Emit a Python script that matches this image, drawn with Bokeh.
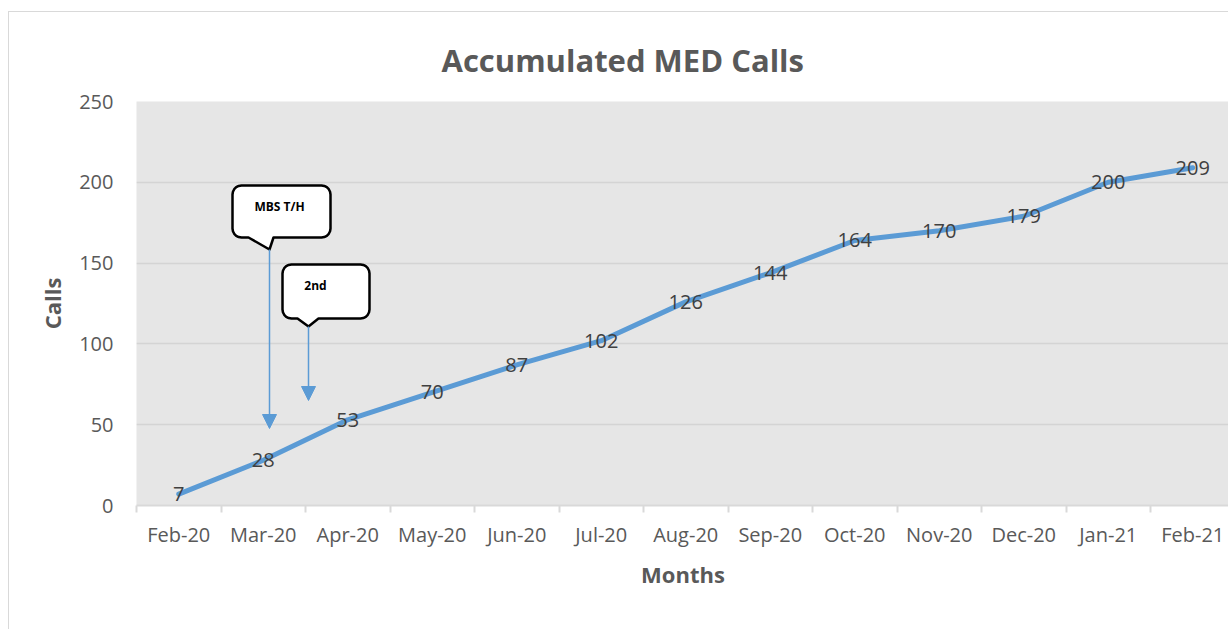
import numpy as np
from bokeh.plotting import figure
from bokeh.models import FixedTicker, Label, Arrow, NormalHead, ColumnDataSource, Range1d
from bokeh.core.properties import value
from bokeh.embed import file_html
from bokeh.resources import INLINE

# ---- data ----
months = ["Feb-20", "Mar-20", "Apr-20", "May-20", "Jun-20", "Jul-20", "Aug-20",
          "Sep-20", "Oct-20", "Nov-20", "Dec-20", "Jan-21", "Feb-21"]
calls = [7, 28, 53, 70, 87, 102, 126, 144, 164, 170, 179, 200, 209]
y_ticks = [0, 50, 100, 150, 200, 250]
callout_texts = ["MBS T/H", "2nd"]

# ---- layout constants ----
ML, MT = 8, 11          # page offset of chart border
W, H = 1220, 618
LEFT, TOP = 127, 89
FRAME_H = 404
BOTTOM = H - TOP - FRAME_H
FRAME_W = W - LEFT
CAT_PX = 84.5
X_START = -0.5
X_END = X_START + FRAME_W / CAT_PX
Y_MAX = 250
FL, FT = ML + 1 + LEFT, MT + 1 + TOP  # frame left/top in page px


def px2x(px):
    return X_START + (px - FL) / CAT_PX


def py2y(py):
    return (FT + FRAME_H - py) / FRAME_H * Y_MAX


idx = list(range(len(months)))
src = ColumnDataSource(dict(x=idx, y=calls, lab=[str(v) for v in calls]))

p = figure(width=W, height=H, output_backend="svg", toolbar_location=None,
           x_range=Range1d(X_START, X_END), y_range=Range1d(0, Y_MAX),
           min_border_left=LEFT, min_border_right=0, min_border_top=TOP,
           min_border_bottom=BOTTOM)
p.styles = {"border-left": "1px solid #d9d9d9", "border-top": "1px solid #d9d9d9",
            "margin-top": f"{MT}px", "margin-left": f"{ML}px"}

p.background_fill_color = "#e6e6e6"
p.border_fill_color = "white"
p.outline_line_color = None

FONT = "Open Sans"
GRAY = "#595959"

# title
p.title.text = "Accumulated MED Calls"
p.title.align = "left"
p.title.offset = 441 - FL
p.title.text_font = FONT
p.title.text_font_size = "31px"
p.title.text_font_style = "bold"
p.title.text_color = GRAY
p.title.standoff = 41

# x axis
p.xaxis.ticker = FixedTicker(ticks=idx, minor_ticks=[i - 0.5 for i in range(len(months) + 1)])
p.xaxis.major_label_overrides = {i: m for i, m in enumerate(months)}
p.xaxis.major_tick_line_color = None
p.xaxis.major_tick_out = 0
p.xaxis.minor_tick_line_color = "#d9d9d9"
p.xaxis.minor_tick_line_width = 2
p.xaxis.minor_tick_out = 7
p.xaxis.minor_tick_in = 0
p.xaxis.axis_line_color = "#d9d9d9"
p.xaxis.axis_line_width = 2
p.xaxis.major_label_text_font = FONT
p.xaxis.major_label_text_font_size = "20px"
p.xaxis.major_label_text_color = GRAY
p.xaxis.major_label_standoff = 8
p.xaxis.axis_label = "Months"
p.xaxis.axis_label_text_font = FONT
p.xaxis.axis_label_text_font_size = "22px"
p.xaxis.axis_label_text_font_style = "bold"
p.xaxis.axis_label_text_color = GRAY
p.xaxis.axis_label_standoff = 8

# y axis
p.yaxis.ticker = FixedTicker(ticks=y_ticks)
p.yaxis.axis_line_color = None
p.yaxis.major_tick_line_color = None
p.yaxis.minor_tick_line_color = None
p.yaxis.major_tick_out = 0
p.yaxis.major_label_standoff = 23
p.yaxis.major_label_text_font = FONT
p.yaxis.major_label_text_font_size = "20px"
p.yaxis.major_label_text_color = GRAY
p.yaxis.axis_label = "Calls"
p.yaxis.axis_label_text_font = FONT
p.yaxis.axis_label_text_font_size = "22px"
p.yaxis.axis_label_text_font_style = "bold"
p.yaxis.axis_label_text_color = GRAY
p.yaxis.axis_label_standoff = 9

p.xgrid.grid_line_color = None
p.ygrid.grid_line_color = "#d4d4d4"
p.ygrid.grid_line_width = 1.5

# series
p.line("x", "y", source=src, line_color="#5b9bd5", line_width=5,
       line_join="round", line_cap="round")
p.text("x", "y", text="lab", source=src, text_align="center", text_baseline="middle",
       text_font=value(FONT), text_font_size="20px", text_color="#404040")


# callouts (pixel geometry -> data)
def callout_poly(left, top, right, bottom, r, nl, nr, tip):
    pts = []

    def arc(cx, cy, a0, a1):
        for a in np.linspace(np.radians(a0), np.radians(a1), 6):
            pts.append((cx + r * np.cos(a), cy + r * np.sin(a)))

    arc(left + r, top + r, 180, 270)
    arc(right - r, top + r, 270, 360)
    arc(right - r, bottom - r, 0, 90)
    pts.append((nr, bottom))
    pts.append(tip)
    pts.append((nl, bottom))
    arc(left + r, bottom - r, 90, 180)
    xs = [px2x(a) for a, b in pts]
    ys = [py2y(b) for a, b in pts]
    return xs, ys


callouts = [
    dict(box=(232, 185, 330, 237), nl=248, nr=273, tip=(269, 249), arrow_end=428,
         text_xy=(279, 206)),
    dict(box=(282, 264, 369, 318), nl=297, nr=318, tip=(308, 326), arrow_end=400,
         text_xy=(315, 285)),
]

for c, t in zip(callouts, callout_texts):
    l, tp, r_, b = c["box"]
    p.add_layout(Arrow(x_start=px2x(c["tip"][0]), y_start=py2y(c["tip"][1]),
                       x_end=px2x(c["tip"][0]), y_end=py2y(c["arrow_end"]),
                       line_color="#5b9bd5", line_width=1.5,
                       end=NormalHead(size=14, fill_color="#5b9bd5", line_color="#5b9bd5")))
    xs, ys = callout_poly(l, tp, r_, b, 9, c["nl"], c["nr"], c["tip"])
    p.patch(xs, ys, fill_color="white", line_color="black", line_width=2.5,
            line_join="round")
    p.add_layout(Label(x=px2x(c["text_xy"][0]), y=py2y(c["text_xy"][1]), text=t,
                       text_align="center", text_baseline="middle", text_font=FONT,
                       text_font_size="12px", text_font_style="bold", text_color="black"))

open("out.html", "w").write(file_html(p, INLINE))
